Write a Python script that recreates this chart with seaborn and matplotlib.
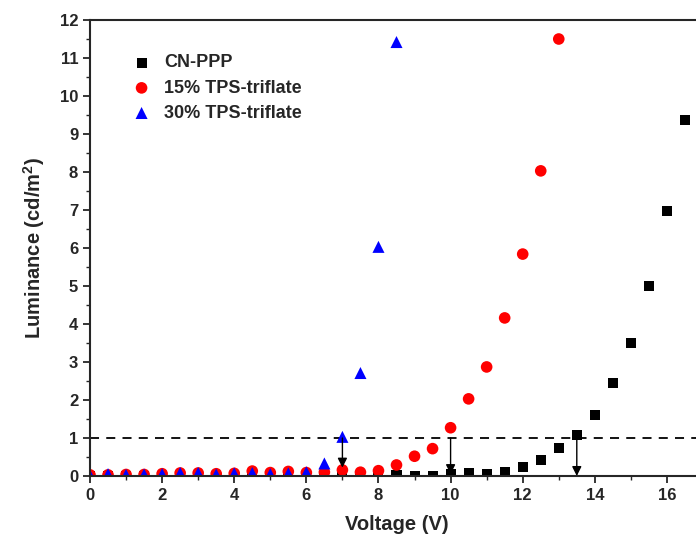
import numpy as np
import pandas as pd
import seaborn as sns
import matplotlib.pyplot as plt
from matplotlib.ticker import MultipleLocator

# CN-PPP (black squares)
v_cn = [0, 0.5, 1, 1.5, 2, 2.5, 3, 3.5, 4, 4.5, 5, 5.5, 6, 6.5, 7, 7.5, 8,
        8.5, 9, 9.5, 10, 10.5, 11, 11.5, 12, 12.5, 13, 13.5, 14, 14.5, 15, 15.5, 16, 16.5]
lum_cn = [0, 0, 0, 0, 0, 0, 0, 0, 0, 0, 0, 0, 0, 0, 0, 0, 0,
          0.02, 0.0, 0.0, 0.05, 0.08, 0.05, 0.1, 0.24, 0.43, 0.74, 1.08, 1.6, 2.45, 3.5, 5.0, 6.97, 9.37]

# 15% TPS-triflate (red circles)
v_15 = [0, 0.5, 1, 1.5, 2, 2.5, 3, 3.5, 4, 4.5, 5, 5.5, 6, 6.5, 7, 7.5, 8,
        8.5, 9, 9.5, 10, 10.5, 11, 11.5, 12, 12.5, 13]
lum_15 = [0.03, 0.03, 0.04, 0.04, 0.06, 0.08, 0.08, 0.06, 0.07, 0.13, 0.09, 0.12, 0.09, 0.1, 0.16, 0.1, 0.14,
          0.29, 0.52, 0.72, 1.27, 2.03, 2.87, 4.16, 5.84, 8.03, 11.5]

# 30% TPS-triflate (blue triangles)
v_30 = [0, 0.5, 1, 1.5, 2, 2.5, 3, 3.5, 4, 4.5, 5, 5.5, 6, 6.5, 7, 7.5, 8, 8.5]
lum_30 = [0.02, 0.05, 0.03, 0.04, 0.05, 0.08, 0.08, 0.04, 0.07, 0.08, 0.05, 0.07, 0.1, 0.33, 1.03, 2.71, 6.03, 11.42]

# turn-on arrows (x, end of arrow)
arrow_x = [7, 10, 13.5]
arrow_end = [0.22, 0.05, 0.0]

sns.set_style("ticks")
plt.rcParams['font.family'] = ['Liberation Sans', 'DejaVu Sans']
plt.rcParams['font.weight'] = 'bold'
plt.rcParams['mathtext.fontset'] = 'custom'
plt.rcParams['mathtext.bf'] = 'Liberation Sans:bold'

fig = plt.figure(figsize=(6.96, 5.42), dpi=100)
ax = fig.add_axes([90 / 696, 66 / 542, 613 / 696, 456 / 542])

sns.scatterplot(x=v_cn, y=lum_cn, marker='s', color='black', s=52, edgecolor='none',
                label='CN-PPP', ax=ax, zorder=3)
sns.scatterplot(x=v_15, y=lum_15, marker='o', color='red', s=70, edgecolor='none',
                label='15% TPS-triflate', ax=ax, zorder=4)
sns.scatterplot(x=v_30, y=lum_30, marker='^', color='blue', s=75, edgecolor='none',
                label='30% TPS-triflate', ax=ax, zorder=5)

ax.axhline(1, color='black', ls=(0, (5, 4)), lw=1.3, zorder=2)
for xa, ye in zip(arrow_x, arrow_end):
    ax.annotate('', xy=(xa, ye), xytext=(xa, 1.0),
                arrowprops=dict(arrowstyle='-|>', color='black', lw=1.0,
                                mutation_scale=14, shrinkA=0, shrinkB=0), zorder=6)

ax.set_xlim(0, 17)
ax.set_ylim(0, 12)
ax.xaxis.set_major_locator(MultipleLocator(2))
ax.xaxis.set_minor_locator(MultipleLocator(1))
ax.yaxis.set_major_locator(MultipleLocator(1))
ax.yaxis.set_minor_locator(MultipleLocator(0.5))
ax.tick_params(which='major', direction='out', length=5, width=1.3, labelsize=12)
ax.tick_params(which='minor', direction='out', length=3, width=1.0)
ax.tick_params(axis='y', which='both', right=True)
for lab in ax.get_xticklabels() + ax.get_yticklabels():
    lab.set_fontweight('bold')
for sp in ax.spines.values():
    sp.set_linewidth(1.5)
    sp.set_zorder(10)

ax.set_xlabel('Voltage (V)', fontsize=14.5, fontweight='bold', labelpad=9)
ax.set_ylabel('Luminance (cd/m$^\\mathbf{2}$)', fontsize=14.5, fontweight='bold', labelpad=9)

ax.legend(loc='upper left', bbox_to_anchor=(0.037, 0.96), frameon=False,
          prop={'weight': 'bold', 'size': 13}, handlelength=1.4, handletextpad=0.53,
          labelspacing=0.45)

fig.savefig('out.png', dpi=100)
